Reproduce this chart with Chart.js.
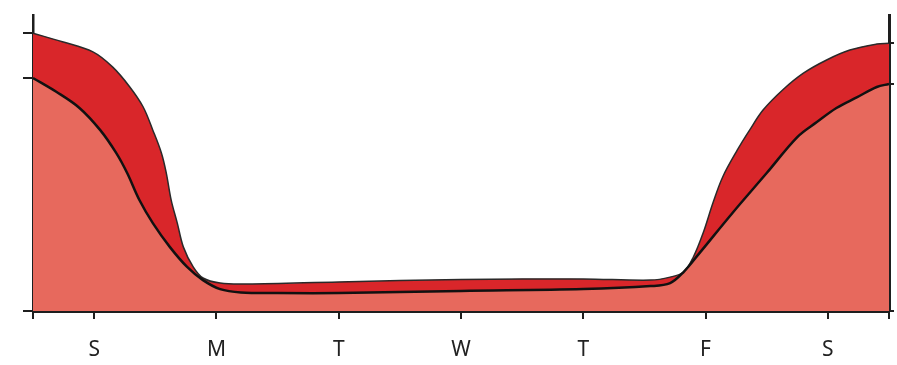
<!DOCTYPE html>
<html>
<head>
<meta charset="utf-8">
<script src="https://cdn.jsdelivr.net/npm/chart.js@4"></script>
<style>
  html, body { margin: 0; padding: 0; background: #fff; }
  #wrap { width: 897px; height: 365px; }
</style>
</head>
<body>
<div id="wrap"><canvas id="chart"></canvas></div>
<script>
// day labels, one per day position 0..6
const days = ['S', 'M', 'T', 'W', 'T', 'F', 'S'];

// upper series (dark red), x in days
const upperX = [-0.5, -0.26, -0.01, 0.15, 0.29, 0.4, 0.48, 0.55, 0.59, 0.63, 0.68, 0.73, 0.81, 0.89, 1.03,
                1.25, 2.0, 3.0, 4.0, 4.55, 4.71, 4.82, 4.9, 4.98, 5.06, 5.14, 5.26, 5.36, 5.47,
                5.63, 5.8, 5.99, 6.18, 6.4, 6.5];
const upperY = [92.6, 89.8, 86.4, 81.4, 74.8, 68.1, 60.3, 52.7, 46, 37, 29.3, 21.3, 14.7, 11, 9.3,
                9, 9.7, 10.5, 10.7, 10.3, 11.3, 13, 18, 26, 36, 44.7, 53.7, 60.3, 67,
                73.7, 79.3, 83.7, 87, 89, 89.3];

// lower series (light red, black line)
const lowerX = [-0.5, -0.31, -0.12, 0.05, 0.18, 0.27, 0.37, 0.48, 0.62, 0.76, 0.89, 1.03, 1.2, 1.5,
                2.0, 3.0, 4.0, 4.55, 4.71, 4.82, 4.95, 5.22, 5.5, 5.75, 5.91,
                6.07, 6.24, 6.4, 6.5];
const lowerY = [77.7, 73.1, 67.7, 60.3, 52.7, 46, 37, 29.3, 21.3, 14.7, 10.3, 7.3, 6.2, 6,
                6, 6.7, 7.3, 8.3, 9.3, 13, 19.3, 32.7, 46, 58, 63,
                67.7, 71.3, 74.7, 75.7];

// axis tick marks (no labels) at the series end values
const leftTicks = [0, 77.7, 92.6];
const rightTicks = [0, 75.7, 89.3];

const toPoints = (xs, ys) => xs.map((x, i) => ({ x: x, y: ys[i] }));

const ink = '#1e1e1e';

new Chart(document.getElementById('chart').getContext('2d'), {
    type: 'line',
    data: {
        datasets: [
            {
                data: toPoints(lowerX, lowerY),
                borderColor: '#111',
                borderWidth: 2.5,
                backgroundColor: '#e7695d',
                fill: 'origin',
                pointRadius: 0,
                tension: 0.35,
                order: 0,
                yAxisID: 'y'
            },
            {
                data: toPoints(upperX, upperY),
                borderColor: '#2a2a2a',
                borderWidth: 1.5,
                backgroundColor: '#d9262a',
                fill: 'origin',
                pointRadius: 0,
                tension: 0.35,
                order: 1,
                yAxisID: 'y'
            }
        ]
    },
    options: {
        responsive: true,
        maintainAspectRatio: false,
        animation: false,
        layout: { padding: { top: 15, left: 0, right: 0, bottom: 0 } },
        plugins: { legend: { display: false }, tooltip: { enabled: false } },
        scales: {
            x: {
                type: 'linear',
                min: -0.5,
                max: 6.5,
                afterBuildTicks: s => { s.ticks = [-0.5, 0, 1, 2, 3, 4, 5, 6, 6.5].map(v => ({ value: v })); },
                afterFit: s => { s.height = 54; s.paddingLeft = 0; s.paddingRight = 0; },
                ticks: {
                    autoSkip: false,
                    maxRotation: 0,
                    padding: 18,
                    color: '#222',
                    font: { family: 'Noto Sans', size: 21 },
                    callback: v => Number.isInteger(v) ? days[v] : ''
                },
                grid: { drawOnChartArea: false, drawTicks: true, tickLength: 8, color: ink, lineWidth: 2 },
                border: { display: true, color: ink, width: 3 }
            },
            y: {
                position: 'left',
                min: 0,
                max: 98.7,
                afterBuildTicks: s => { s.ticks = leftTicks.map(v => ({ value: v })); },
                afterFit: s => { s.width = 33; },
                ticks: { display: false },
                grid: { drawOnChartArea: false, drawTicks: true, tickLength: 10, color: ink, lineWidth: 2 },
                border: { display: true, color: ink, width: 2.5 }
            },
            y2: {
                position: 'right',
                min: 0,
                max: 98.7,
                afterBuildTicks: s => { s.ticks = rightTicks.map(v => ({ value: v })); },
                afterFit: s => { s.width = 8; },
                ticks: { display: false },
                grid: { drawOnChartArea: false, drawTicks: true, tickLength: 5, color: ink, lineWidth: 2 },
                border: { display: true, color: ink, width: 3 }
            }
        }
    }
});
</script>
</body>
</html>
